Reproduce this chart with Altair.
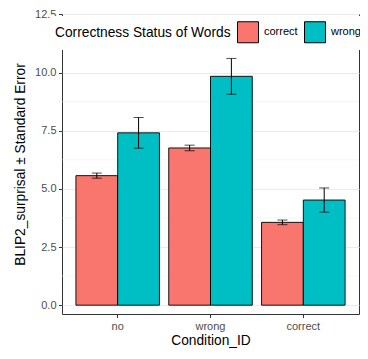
import altair as alt
import pandas as pd

conditions = ["no", "no", "wrong", "wrong", "correct", "correct"]
status = ["correct", "wrong", "correct", "wrong", "correct", "wrong"]
means = [5.57, 7.41, 6.76, 9.84, 3.56, 4.52]
ses = [0.11, 0.66, 0.12, 0.77, 0.10, 0.52]
cond_order = ["no", "wrong", "correct"]
status_order = ["correct", "wrong"]
colors = ["#F8766D", "#00BFC4"]
y_ticks = [0, 2.5, 5, 7.5, 10, 12.5]
y_minor = [1.25, 3.75, 6.25, 8.75, 11.25]

df = pd.DataFrame({"Condition_ID": conditions, "Status": status, "mean": means, "se": ses})
df["lo"] = df["mean"] - df["se"]
df["hi"] = df["mean"] + df["se"]
minor_df = pd.DataFrame({"v": y_minor})

FONT = "Liberation Sans"
YTITLE = "BLIP2_surprisal ± Standard Error"

xscale = alt.Scale(domain=cond_order, paddingInner=0.1, paddingOuter=0.15)
yscale = alt.Scale(domain=[-0.38, 12.52], nice=False, zero=False)
xaxis = alt.Axis(title="Condition_ID", labelAngle=0, titlePadding=2)
yaxis = alt.Axis(values=y_ticks, format=".1f", titlePadding=7)
xoff = alt.XOffset("Status:N", scale=alt.Scale(domain=status_order))

minor = alt.Chart(minor_df).mark_rule(color="#EBEBEB", strokeWidth=0.5).encode(
    y=alt.Y("v:Q", scale=yscale, axis=yaxis, title=YTITLE)
)

base = alt.Chart(df).encode(
    x=alt.X("Condition_ID:N", scale=xscale, sort=cond_order, axis=xaxis),
    xOffset=xoff,
)

bars = base.mark_bar(stroke="black", strokeWidth=0.9).encode(
    y=alt.Y("mean:Q", scale=yscale, axis=yaxis, title=YTITLE),
    fill=alt.Fill(
        "Status:N",
        scale=alt.Scale(domain=status_order, range=colors),
        legend=alt.Legend(
            title="Correctness Status of Words",
            orient="none",
            legendX=-12,
            legendY=2,
            direction="horizontal",
            titleOrient="left",
            titleBaseline="middle",
            titleAnchor="middle",
            fillColor="white",
            padding=5,
            symbolType="square",
            symbolSize=441,
            symbolStrokeColor="black",
            symbolStrokeWidth=1,
            symbolOpacity=1,
            labelFont=FONT,
            labelFontSize=11,
            labelColor="black",
            titleFont=FONT,
            titleFontSize=13.75,
            titleFontWeight="normal",
            titleColor="black",
            titlePadding=6,
            titleLimit=400,
            labelOffset=5,
            columnPadding=4,
        ),
    ),
)

err = base.mark_rule(color="black", strokeWidth=1).encode(
    y=alt.Y("lo:Q", scale=yscale, axis=yaxis, title=YTITLE),
    y2="hi:Q",
)
cap_lo = base.mark_tick(color="black", size=10, thickness=1).encode(
    y=alt.Y("lo:Q", scale=yscale, axis=yaxis, title=YTITLE)
)
cap_hi = base.mark_tick(color="black", size=10, thickness=1).encode(
    y=alt.Y("hi:Q", scale=yscale, axis=yaxis, title=YTITLE)
)

chart = (
    alt.layer(minor, bars, err, cap_lo, cap_hi)
    .properties(
        width=297,
        height=300,
        autosize=alt.AutoSizeParams(type="none"),
        padding={"left": 54, "top": 6, "right": 1, "bottom": 37},
    )
    .configure_view(stroke="#333333", strokeWidth=1)
    .configure_axis(
        labelFont=FONT,
        labelFontSize=11,
        labelColor="#4D4D4D",
        labelPadding=2.5,
        tickColor="#333333",
        tickSize=3.5,
        domain=False,
        gridColor="#EBEBEB",
        gridWidth=1,
        titleFont=FONT,
        titleFontSize=13.75,
        titleFontWeight="normal",
        titleColor="black",
    )
)

chart.save("out.html", embed_options={"renderer": "svg", "actions": False})
